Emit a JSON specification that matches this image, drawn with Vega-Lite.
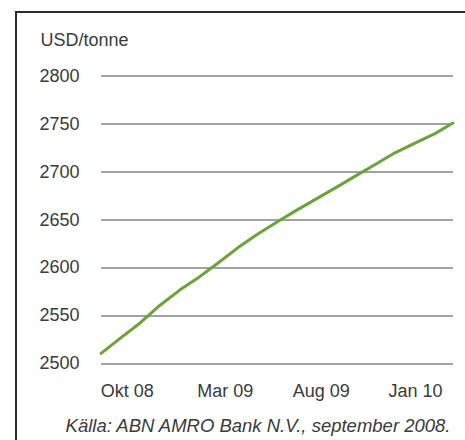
{
  "$schema": "https://vega.github.io/schema/vega-lite/v6.json",
  "width": 455,
  "height": 434,
  "autosize": {"type": "none"},
  "padding": {"left": 16, "top": 12, "right": -6, "bottom": -6},
  "background": "white",
  "config": {
    "view": {"stroke": "#2b2b2b", "strokeWidth": 2},
    "font": "Liberation Sans"
  },
  "datasets": {
    "prices": [
      {"date": "2008-09-01", "price": 2511},
      {"date": "2008-10-01", "price": 2527},
      {"date": "2008-11-01", "price": 2543},
      {"date": "2008-12-01", "price": 2561},
      {"date": "2009-01-01", "price": 2577},
      {"date": "2009-02-01", "price": 2591},
      {"date": "2009-03-01", "price": 2605},
      {"date": "2009-04-01", "price": 2621},
      {"date": "2009-05-01", "price": 2635},
      {"date": "2009-06-01", "price": 2648},
      {"date": "2009-07-01", "price": 2660},
      {"date": "2009-08-01", "price": 2672},
      {"date": "2009-09-01", "price": 2684},
      {"date": "2009-10-01", "price": 2696},
      {"date": "2009-11-01", "price": 2708},
      {"date": "2009-12-01", "price": 2720},
      {"date": "2010-01-01", "price": 2730},
      {"date": "2010-02-01", "price": 2740},
      {"date": "2010-03-01", "price": 2751}
    ],
    "grid": [
      {"v": 2500}, {"v": 2550}, {"v": 2600}, {"v": 2650},
      {"v": 2700}, {"v": 2750}, {"v": 2800}
    ]
  },
  "layer": [
    {
      "data": {"name": "grid"},
      "mark": {"type": "rule", "color": "#444444", "strokeWidth": 1},
      "encoding": {
        "y": {
          "field": "v", "type": "quantitative",
          "scale": {"domain": [2414.583, 2866.667], "nice": false, "zero": false}
        },
        "x": {
          "datum": {"year": 2008, "month": 9, "date": 1, "utc": true},
          "type": "temporal",
          "scale": {"type": "utc", "domain": [{"year": 2008, "month": 4, "date": 22, "utc": true}, {"year": 2010, "month": 3, "date": 29, "utc": true}], "nice": false}
        },
        "x2": {"datum": {"year": 2010, "month": 3, "date": 1, "utc": true}}
      }
    },
    {
      "data": {"name": "prices"},
      "mark": {"type": "line", "color": "#6ca239", "strokeWidth": 3, "strokeJoin": "round", "strokeCap": "round"},
      "encoding": {
        "x": {
          "field": "date", "type": "temporal",
          "scale": {"type": "utc", "domain": [{"year": 2008, "month": 4, "date": 22, "utc": true}, {"year": 2010, "month": 3, "date": 29, "utc": true}], "nice": false},
          "axis": {
            "values": [
              {"year": 2008, "month": 10, "date": 11, "utc": true},
              {"year": 2009, "month": 3, "date": 12, "utc": true},
              {"year": 2009, "month": 8, "date": 8, "utc": true},
              {"year": 2010, "month": 1, "date": 1, "utc": true}
            ],
            "labelExpr": "utcFormat(datum.value, '%m') == '10' ? 'Okt ' + utcFormat(datum.value, '%y') : utcFormat(datum.value, '%b %y')",
            "grid": false, "ticks": false, "domain": false,
            "offset": -50, "labelPadding": 0, "labelBaseline": "alphabetic",
            "labelFlush": false, "labelOverlap": false,
            "labelFontSize": 18, "labelColor": "#3a3a3a",
            "title": "Källa: ABN AMRO Bank N.V., september 2008.",
            "titleX": 434, "titleY": 35, "titleAlign": "right", "titleAnchor": null,
            "titleBaseline": "alphabetic", "titleFontStyle": "italic",
            "titleFontWeight": "normal", "titleFontSize": 18.5, "titleColor": "#3a3a3a"
          }
        },
        "y": {
          "field": "price", "type": "quantitative",
          "scale": {"domain": [2414.583, 2866.667], "nice": false, "zero": false},
          "axis": {
            "values": [2500, 2550, 2600, 2650, 2700, 2750, 2800],
            "format": "d",
            "grid": false, "ticks": false, "domain": false,
            "offset": -63, "labelPadding": 0,
            "labelFontSize": 18, "labelColor": "#3a3a3a",
            "title": "USD/tonne", "titleAngle": 0, "titleAlign": "left",
            "titleBaseline": "alphabetic", "titleX": -39, "titleY": 33.5,
            "titleFontSize": 18, "titleFontWeight": "normal", "titleColor": "#3a3a3a"
          }
        }
      }
    }
  ]
}
